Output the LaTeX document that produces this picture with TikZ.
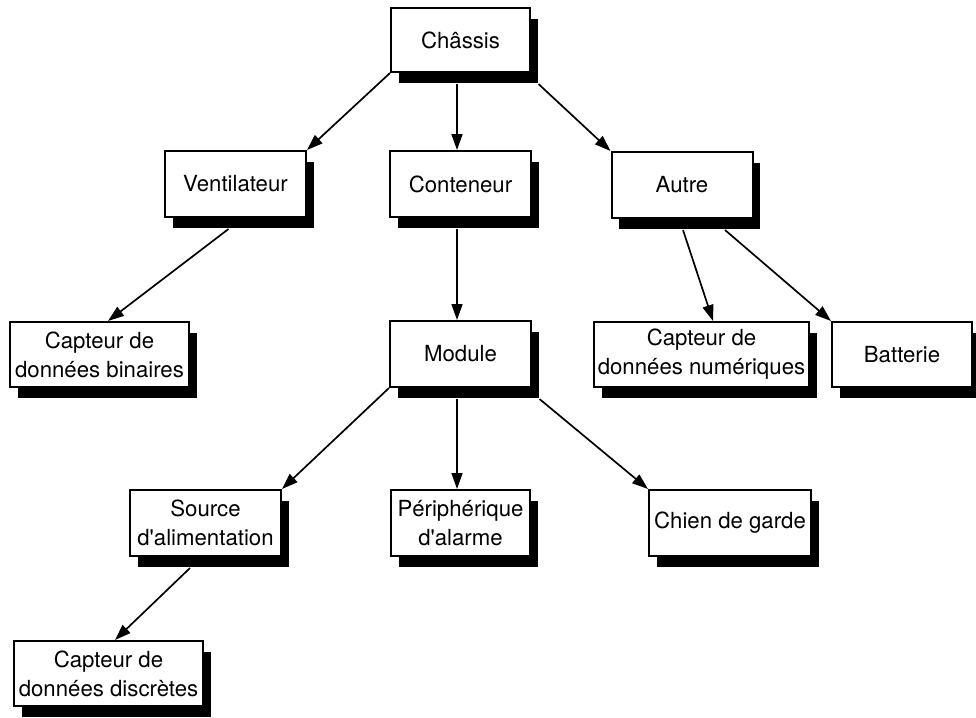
\documentclass[tikz,border=0pt]{standalone}
\usepackage{fontspec}
\setmainfont{TeX Gyre Heros}[Ligatures=TeXOff]
\usetikzlibrary{arrows.meta,shadows}

\tikzset{
  unit/.style={draw=black, line width=2pt, fill=white, inner sep=0pt,
    align=center, font=\fontsize{22.2}{29}\selectfont,
    drop shadow={shadow xshift=7.5pt, shadow yshift=-11pt, fill=black, opacity=1}},
  link/.style={line width=1.7pt, -{Triangle[length=16pt,width=11pt]}}
}

\begin{document}
\begin{tikzpicture}[x=1pt, y=-1pt]
\useasboundingbox (0,0) rectangle (976,717);

% component boxes
\node[unit, minimum width=139pt, minimum height=64pt] (chassis) at (460.5,40) {Châssis};
\node[unit, minimum width=141pt, minimum height=66pt] (vent)    at (235.5,184) {Ventilateur};
\node[unit, minimum width=141pt, minimum height=66pt] (cont)    at (460.5,184) {Conteneur};
\node[unit, minimum width=141pt, minimum height=66pt] (autre)   at (682,185) {Autre};
\node[unit, minimum width=179pt, minimum height=65pt] (binaire) at (99.5,354.5) {Capteur de\\données binaires};
\node[unit, minimum width=141pt, minimum height=66pt] (module)  at (460.5,354) {Module};
\node[unit, minimum width=215pt, minimum height=65pt] (numer)   at (701.5,354.5) {Capteur de\\données numériques};
\node[unit, minimum width=140pt, minimum height=65pt] (batt)    at (902,354.5) {Batterie};
\node[unit, minimum width=151pt, minimum height=66pt] (source)  at (205.5,523) {Source\\d'alimentation};
\node[unit, minimum width=139pt, minimum height=66pt] (periph)  at (460.5,523) {Périphérique\\d'alarme};
\node[unit, minimum width=162pt, minimum height=66pt] (chien)   at (730,523) {Chien de garde};
\node[unit, minimum width=189pt, minimum height=65pt] (discr)   at (108.5,673.5) {Capteur de\\données discrètes};

% containment arrows
\draw[link] (chassis.south west) -- (vent.north east);
\draw[link] ([xshift=-3.5pt,yshift=-11pt]chassis.south) -- ([xshift=-3.5pt]cont.north);
\draw[link] ([xshift=7.5pt,yshift=-11pt]chassis.south east) -- (autre.north west);
\draw[link] ([xshift=-7pt,yshift=-11pt]vent.south) -- ([xshift=8.5pt]binaire.north);
\draw[link] ([xshift=-3.5pt,yshift=-11pt]cont.south) -- ([xshift=-3.5pt]module.north);
\draw[link] ([xshift=1pt,yshift=-11pt]autre.south) -- ([xshift=11.5pt]numer.north);
\draw[link] ([xshift=43pt,yshift=-11pt]autre.south) -- (batt.north west);
\draw[link] (module.south west) -- (source.north east);
\draw[link] ([xshift=-3.5pt,yshift=-11pt]module.south) -- ([xshift=-3.5pt]periph.north);
\draw[link] ([xshift=7.5pt,yshift=-11pt]module.south east) -- (chien.north west);
\draw[link] ([xshift=-15.5pt,yshift=-11pt]source.south) -- ([xshift=6.5pt]discr.north);
\end{tikzpicture}
\end{document}
